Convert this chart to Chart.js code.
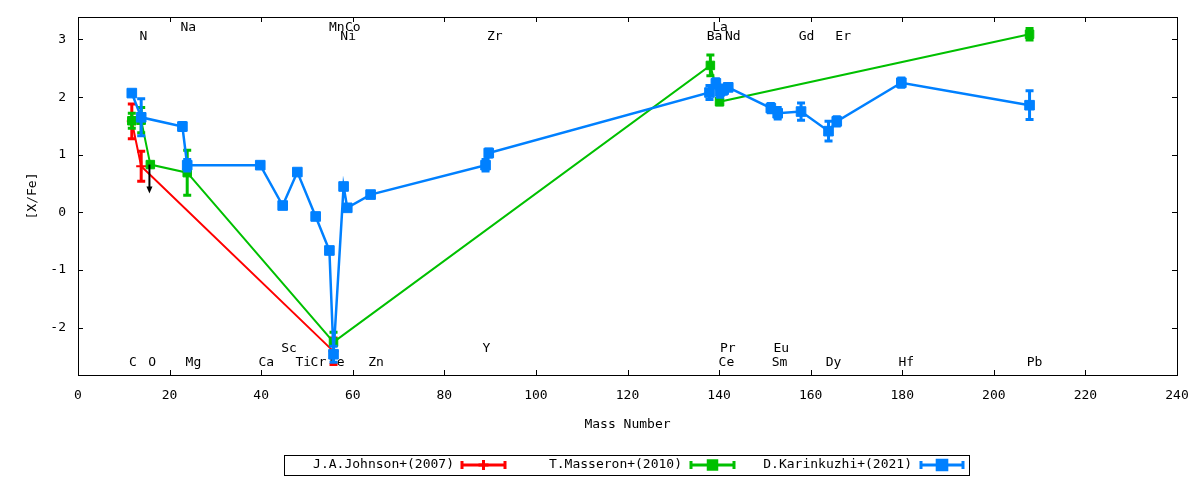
<!DOCTYPE html>
<html>
<head>
<meta charset="utf-8">
<script src="https://cdn.jsdelivr.net/npm/chart.js@4.4.0/dist/chart.umd.min.js"></script>
<style>
	html, body { margin: 0; padding: 0; background: #fff; }
	#wrapper-abundance { width: 1200px; height: 480px; }
</style>
</head>
<body>
<div id="wrapper-abundance"><canvas id="abundance"></canvas></div>
<script>
const FONT_FAMILY = "'DejaVu Sans Mono', monospace";

// J.A.Johnson+(2007)
const johnsonMass = [11.75, 13.8, 55.8];
const johnsonXFe = [1.58, 0.8, -2.41];
const johnsonErr = [0.3, 0.26, 0.23];

// T.Masseron+(2010)
const masseronMass = [11.75, 13.8, 15.8, 23.85, 55.8, 138.1, 140.1, 207.8];
const masseronXFe = [1.59, 1.6, 0.83, 0.69, -2.25, 2.55, 1.92, 3.09];
const masseronErr = [0.13, 0.22, 0, 0.39, 0.17, 0.18, 0.05, 0.1];

// D.Karinkuzhi+(2021)
const karinMass = [11.75, 13.8, 22.8, 23.85, 39.8, 44.7, 47.9, 51.9, 54.9, 55.8,
	58.0, 58.8, 63.9, 89.0, 89.7, 137.9, 139.3, 140.2, 141.0, 142.0,
	151.3, 152.8, 157.9, 163.9, 165.7, 179.8, 207.8];
const karinXFe = [2.07, 1.65, 1.49, 0.82, 0.82, 0.12, 0.7, -0.07, -0.66, -2.46,
	0.45, 0.08, 0.31, 0.82, 1.03, 2.08, 2.24, 2.1, 2.13, 2.17,
	1.81, 1.72, 1.75, 1.41, 1.58, 2.25, 1.86];
const karinErr = [0.04, 0.32, 0.07, 0.1, 0.03, 0.04, 0.04, 0.04, 0.05, 0.14,
	0.05, 0.04, 0.04, 0.1, 0.07, 0.12, 0.08, 0.1, 0.08, 0.06,
	0.08, 0.1, 0.15, 0.17, 0.08, 0.08, 0.25];

// upper limit (Masseron O)
const limitMass = [15.6];
const limitFrom = [0.83];
const limitTo = [0.33];

// element names along the plot (row 0/1 = bottom, 2/3 = top)
const elemNames = ["C", "N", "O", "Na", "Mg", "Ca", "Sc", "Ti", "Cr", "Fe", "Mn", "Co", "Ni", "Zn",
	"Y", "Zr", "Ba", "La", "Ce", "Pr", "Nd", "Sm", "Eu", "Gd", "Dy", "Er", "Hf", "Pb"];
const elemPos = [12.0, 14.3, 16.2, 24.1, 25.2, 41.1, 46.1, 49.2, 52.5, 56.5, 56.5, 60.0, 59.0, 65.1,
	89.2, 91.0, 139.0, 140.2, 141.6, 141.9, 143.0, 153.2, 153.6, 159.1, 165.0, 167.1, 180.9, 208.9];
const elemRow = [0, 2, 0, 3, 0, 0, 1, 0, 0, 0, 3, 3, 2, 0,
	1, 2, 2, 3, 0, 1, 2, 0, 1, 2, 0, 2, 0, 0];

const xTicks = [0, 20, 40, 60, 80, 100, 120, 140, 160, 180, 200, 220, 240];
const yTicks = [-2, -1, 0, 1, 2, 3];

const toPoints = (xs, ys) => xs.map((x, i) => ({ x: x, y: ys[i] }));

const font = { family: FONT_FAMILY, size: 13 };

// error bars, drawn before each dataset's own line/points
const errorBars = {
	id: "errorBars",
	beforeDatasetDraw(chart, args) {
		const ds = chart.data.datasets[args.index];
		if (!ds.errors) return;
		const { ctx, scales } = chart;
		ctx.save();
		ctx.strokeStyle = ds.borderColor;
		ctx.lineWidth = 3;
		ds.data.forEach((p, i) => {
			const e = ds.errors[i];
			if (!e) return;
			const x = scales.x.getPixelForValue(p.x);
			const y1 = scales.y.getPixelForValue(p.y + e);
			const y2 = scales.y.getPixelForValue(p.y - e);
			ctx.beginPath();
			ctx.moveTo(x, y1);
			ctx.lineTo(x, y2);
			ctx.moveTo(x - 4, y1);
			ctx.lineTo(x + 4, y1);
			ctx.moveTo(x - 4, y2);
			ctx.lineTo(x + 4, y2);
			ctx.stroke();
		});
		ctx.restore();
	},
};

// frame, inward ticks, element names, upper limit arrows, legend
const decorations = {
	id: "decorations",
	beforeDatasetsDraw(chart) {
		const { ctx, chartArea: a, scales } = chart;
		ctx.save();
		ctx.strokeStyle = "#000";
		ctx.lineWidth = 1;
		ctx.strokeRect(a.left + 0.5, a.top + 0.5, a.right - a.left, a.bottom - a.top);
		ctx.beginPath();
		xTicks.forEach((v) => {
			const x = Math.round(scales.x.getPixelForValue(v)) + 0.5;
			ctx.moveTo(x, a.bottom);
			ctx.lineTo(x, a.bottom - 5);
			ctx.moveTo(x, a.top);
			ctx.lineTo(x, a.top + 5);
		});
		yTicks.forEach((v) => {
			const y = Math.round(scales.y.getPixelForValue(v)) + 0.5;
			ctx.moveTo(a.left, y);
			ctx.lineTo(a.left + 5, y);
			ctx.moveTo(a.right, y);
			ctx.lineTo(a.right - 5, y);
		});
		ctx.stroke();

		const rowY = [a.bottom - 12, a.bottom - 26, a.top + 20, a.top + 10.5];
		ctx.fillStyle = "#000";
		ctx.font = "13px " + FONT_FAMILY;
		ctx.textAlign = "center";
		ctx.textBaseline = "middle";
		elemNames.forEach((name, i) => {
			ctx.fillText(name, scales.x.getPixelForValue(elemPos[i]), rowY[elemRow[i]]);
		});
		ctx.restore();
	},
	afterDatasetsDraw(chart) {
		const { ctx, scales } = chart;
		ctx.save();
		ctx.strokeStyle = "#000";
		ctx.fillStyle = "#000";
		ctx.lineWidth = 2;
		limitMass.forEach((m, i) => {
			const x = scales.x.getPixelForValue(m);
			const y1 = scales.y.getPixelForValue(limitFrom[i]);
			const y2 = scales.y.getPixelForValue(limitTo[i]);
			ctx.beginPath();
			ctx.moveTo(x, y1);
			ctx.lineTo(x, y2 - 6);
			ctx.stroke();
			ctx.beginPath();
			ctx.moveTo(x - 3, y2 - 7);
			ctx.lineTo(x + 3, y2 - 7);
			ctx.lineTo(x, y2);
			ctx.closePath();
			ctx.fill();
		});
		ctx.restore();
	},
	afterDraw(chart) {
		const { ctx } = chart;
		const entries = [
			{ textEnd: 454, x1: 462, x2: 505 },
			{ textEnd: 682, x1: 691, x2: 734 },
			{ textEnd: 912, x1: 921, x2: 963 },
		];
		const yMid = 465;
		ctx.save();
		ctx.strokeStyle = "#000";
		ctx.lineWidth = 1;
		ctx.strokeRect(284.5, 455.5, 685, 20);
		ctx.font = "13px " + FONT_FAMILY;
		ctx.textAlign = "right";
		ctx.textBaseline = "middle";
		chart.data.datasets.forEach((ds, i) => {
			const e = entries[i];
			ctx.fillStyle = "#000";
			ctx.fillText(ds.label, e.textEnd, yMid);
			ctx.strokeStyle = ds.borderColor;
			ctx.lineWidth = 3;
			ctx.beginPath();
			ctx.moveTo(e.x1, yMid);
			ctx.lineTo(e.x2, yMid);
			ctx.moveTo(e.x1, yMid - 4);
			ctx.lineTo(e.x1, yMid + 4);
			ctx.moveTo(e.x2, yMid - 4);
			ctx.lineTo(e.x2, yMid + 4);
			ctx.stroke();
			ctx.fillStyle = ds.borderColor;
			Chart.helpers.drawPoint(ctx, {
				pointStyle: ds.pointStyle,
				rotation: 0,
				radius: ds.pointRadius,
				borderWidth: 2,
			}, (e.x1 + e.x2) / 2, yMid);
		});
		ctx.restore();
	},
};

const ctx = document.getElementById("abundance").getContext("2d");

new Chart(ctx, {
	type: "scatter",
	data: {
		datasets: [
			{
				label: "J.A.Johnson+(2007)",
				data: toPoints(johnsonMass, johnsonXFe),
				errors: johnsonErr,
				showLine: true,
				borderColor: "#ff0000",
				backgroundColor: "#ff0000",
				borderWidth: 2,
				pointStyle: "cross",
				pointRadius: 5,
				pointBorderWidth: 2,
				order: 3,
			},
			{
				label: "T.Masseron+(2010)",
				data: toPoints(masseronMass, masseronXFe),
				errors: masseronErr,
				showLine: true,
				borderColor: "#00c000",
				backgroundColor: "#00c000",
				borderWidth: 2,
				pointStyle: "rect",
				pointRadius: 6,
				pointBorderWidth: 1,
				order: 2,
			},
			{
				label: "D.Karinkuzhi+(2021)",
				data: toPoints(karinMass, karinXFe),
				errors: karinErr,
				showLine: true,
				borderColor: "#0080ff",
				backgroundColor: "#0080ff",
				borderWidth: 2.5,
				pointStyle: "rect",
				pointRadius: 6.8,
				pointBorderWidth: 1,
				order: 1,
			},
		],
	},
	options: {
		responsive: true,
		maintainAspectRatio: false,
		animation: false,
		layout: { padding: { left: 0, top: 17, right: 23, bottom: 0 } },
		scales: {
			x: {
				type: "linear",
				min: 0,
				max: 240,
				afterBuildTicks: (s) => { s.ticks = xTicks.map((v) => ({ value: v })); },
				afterFit: (s) => {
					s.height = 105;
					s.paddingLeft = 0;
					s.paddingRight = 0;
				},
				ticks: { font: font, color: "#000", padding: 13, maxRotation: 0, autoSkip: false },
				grid: { display: false, drawTicks: false },
				border: { display: false },
				title: {
					display: true,
					text: "Mass Number",
					font: font,
					color: "#000",
					padding: { top: 0, bottom: 48 },
				},
			},
			y: {
				type: "linear",
				min: -2.82,
				max: 3.39,
				afterBuildTicks: (s) => { s.ticks = yTicks.map((v) => ({ value: v })); },
				afterFit: (s) => {
					s.width = 78;
					s.paddingTop = 0;
					s.paddingBottom = 0;
				},
				ticks: { font: font, color: "#000", padding: 12 },
				grid: { display: false, drawTicks: false },
				border: { display: false },
				title: {
					display: true,
					text: "[X/Fe]",
					font: font,
					color: "#000",
					padding: { top: 25, bottom: 0 },
				},
			},
		},
		plugins: {
			legend: { display: false },
			tooltip: { enabled: false },
			title: { display: false },
		},
	},
	plugins: [errorBars, decorations],
});
</script>
</body>
</html>
